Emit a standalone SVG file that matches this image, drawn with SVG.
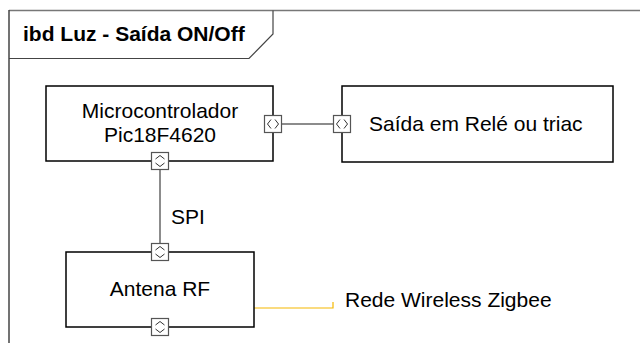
<svg xmlns="http://www.w3.org/2000/svg" width="640" height="343" viewBox="0 0 640 343">
<style>
  text { font-family: "Liberation Sans", Arial, sans-serif; font-size: 21px; fill: #000; }
  .title { font-weight: bold; }
  .box { fill: #fff; stroke: #000; stroke-width: 1.5; }
  .conn { fill: none; stroke: #666; stroke-width: 1.5; }
  .zig { fill: none; stroke: #f5b800; stroke-width: 1.2; }
  .prt { fill: #fff; stroke: #555; stroke-width: 1.2; }
  .chev { fill: none; stroke: #333; stroke-width: 1; }
</style>
<defs>
  <g id="portH">
    <rect class="prt" x="-8.5" y="-8.5" width="17" height="17"/>
    <polyline class="chev" points="-2,-4.5 -5.5,0 -2,4.5"/>
    <polyline class="chev" points="2,-4.5 5.5,0 2,4.5"/>
  </g>
  <g id="portV">
    <rect class="prt" x="-8.5" y="-8.5" width="17" height="17"/>
    <polyline class="chev" points="-4.5,-2 0,-5.5 4.5,-2"/>
    <polyline class="chev" points="-4.5,2 0,5.5 4.5,2"/>
  </g>
</defs>
<rect x="0" y="0" width="640" height="343" fill="#fff"/>
<g id="frame">
  <line x1="9" y1="10.5" x2="640" y2="10.5" stroke="#777" stroke-width="1.5"/>
  <line x1="9" y1="10" x2="9" y2="343" stroke="#444" stroke-width="1.5"/>
  <polyline points="9,58.5 249,58.5 273,34 273,10.5" fill="none" stroke="#444" stroke-width="1.2"/>
  <text class="title" x="23" y="41">ibd Luz - Saída ON/Off</text>
</g>
<g id="connectors">
  <line class="conn" x1="282" y1="124" x2="333" y2="124"/>
  <line class="conn" x1="160" y1="170" x2="160" y2="243"/>
  <polyline class="zig" points="254,308 333,308 333,302"/>
  <text x="171" y="224">SPI</text>
</g>
<g id="micro">
  <rect class="box" x="46" y="86" width="227" height="75"/>
  <text x="160" y="118" text-anchor="middle">Microcontrolador</text>
  <text x="160" y="142" text-anchor="middle">Pic18F4620</text>
  <use href="#portH" x="273" y="124"/>
  <use href="#portV" x="160" y="161"/>
</g>
<g id="saida">
  <rect class="box" x="342" y="86" width="271" height="76"/>
  <text x="369" y="131">Saída em Relé ou triac</text>
  <use href="#portH" x="342" y="124"/>
</g>
<g id="antena">
  <rect class="box" x="66" y="252" width="188" height="75"/>
  <text x="160" y="296" text-anchor="middle">Antena RF</text>
  <use href="#portV" x="160" y="252"/>
  <use href="#portV" x="160" y="327"/>
</g>
<g id="zigbee">
  <text x="345" y="307">Rede Wireless Zigbee</text>
</g>
</svg>
